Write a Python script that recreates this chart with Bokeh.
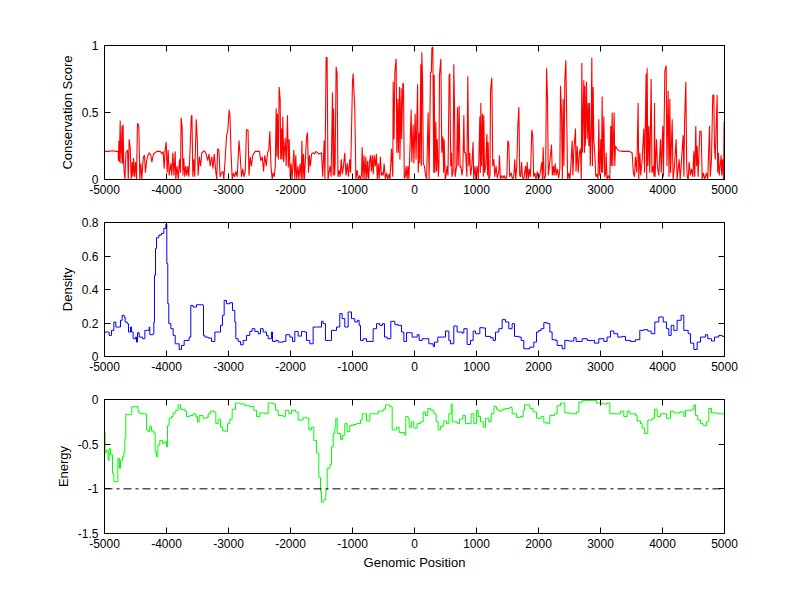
from bokeh.plotting import figure
from bokeh.layouts import column
from bokeh.models import Range1d, FixedTicker, LinearAxis
from bokeh.embed import file_html
from bokeh.resources import INLINE

x_ticks = [-5000,-4000,-3000,-2000,-1000,0,1000,2000,3000,4000,5000]
x_labels = ["-5000","-4000","-3000","-2000","-1000","0","1000","2000","3000","4000","5000"]
cons_ticks = [0,0.5,1]
cons_labels = ["0","0.5","1"]
dens_ticks = [0,0.2,0.4,0.6,0.8]
dens_labels = ["0","0.2","0.4","0.6","0.8"]
ener_ticks = [-1.5,-1,-0.5,0]
ener_labels = ["-1.5","-1","-0.5","0"]

cons_pos = [-5000,-4930,-4880,-4800,-4780,-4775,-4768,-4760,-4747,-4735,-4716,-4708,-4700,-4690,-4683,-4670,-4654,-4628,-4617,-4602,
-4586,-4570,-4554,-4543,-4532,-4516,-4500,-4484,-4468,-4446,-4430,-4414,-4398,-4382,-4371,-4355,-4339,-4323,-4307,-4280,
-4253,-4237,-4210,-4156,-4102,-4070,-4054,-4038,-4022,-4005,-3989,-3973,-3957,-3930,-3914,-3898,-3880,-3860,-3850,-3830,
-3810,-3790,-3775,-3764,-3748,-3735,-3721,-3705,-3690,-3672,-3655,-3640,-3621,-3600,-3590,-3575,-3560,-3545,-3520,-3504,
-3490,-3470,-3450,-3430,-3390,-3360,-3335,-3315,-3295,-3270,-3250,-3230,-3205,-3190,-3175,-3155,-3135,-3115,-3090,-3075,
-3030,-3010,-2990,-2975,-2960,-2940,-2920,-2900,-2880,-2860,-2830,-2815,-2790,-2770,-2750,-2730,-2710,-2685,-2670,-2650,
-2630,-2610,-2570,-2500,-2480,-2455,-2435,-2415,-2390,-2370,-2350,-2333,-2315,-2295,-2280,-2262,-2245,-2231,-2220,-2210,
-2195,-2183,-2167,-2158,-2145,-2135,-2124,-2110,-2086,-2070,-2049,-2035,-2022,-2005,-1990,-1975,-1946,-1930,-1915,-1900,
-1880,-1865,-1845,-1825,-1817,-1800,-1790,-1775,-1742,-1726,-1710,-1695,-1680,-1660,-1635,-1610,-1590,-1540,-1500,-1480,
-1457,-1445,-1425,-1410,-1395,-1380,-1362,-1345,-1323,-1312,-1305,-1290,-1280,-1264,-1248,-1235,-1215,-1200,-1180,-1165,
-1145,-1125,-1105,-1085,-1065,-1045,-1030,-1000,-990,-963,-945,-925,-905,-885,-870,-855,-844,-830,-815,-800,
-785,-770,-755,-740,-725,-710,-695,-680,-665,-650,-630,-615,-600,-585,-570,-550,-535,-520,-505,-490,
-470,-450,-430,-410,-395,-371,-350,-344,-330,-317,-296,-285,-269,-260,-242,-235,-215,-207,-188,-177,
-165,-150,-135,-120,-105,-90,-70,-54,-43,-22,-10,10,25,50,60,75,85,102,110,118,
130,142,160,175,195,220,235,258,272,280,296,310,317,330,344,355,366,385,395,403,
425,440,457,470,478,495,510,525,540,559,570,585,597,605,622,634,645,655,680,694,
705,720,735,750,765,780,796,805,825,845,860,875,890,905,925,945,955,975,990,1010,
1030,1054,1062,1070,1082,1097,1110,1118,1130,1150,1167,1178,1188,1200,1218,1226,1247,1262,1280,1295,
1315,1335,1360,1371,1385,1405,1425,1445,1470,1490,1505,1521,1535,1560,1580,1600,1618,1632,1650,1667,
1683,1697,1712,1727,1742,1762,1790,1805,1817,1835,1850,1870,1892,1908,1922,1940,1960,1980,2000,2020,
2054,2063,2075,2090,2115,2130,2145,2158,2175,2210,2223,2240,2252,2270,2285,2305,2325,2345,2355,2371,
2385,2398,2410,2425,2441,2457,2470,2490,2505,2520,2543,2555,2570,2597,2605,2624,2640,2660,2677,2690,
2699,2710,2731,2742,2747,2755,2774,2785,2801,2812,2822,2835,2848,2860,2870,2882,2892,2908,2925,2945,
2960,2973,2985,3005,3015,3027,3035,3054,3068,3085,3091,3105,3125,3150,3166,3175,3188,3198,3220,3230,
3242,3279,3300,3350,3400,3460,3510,3530,3548,3564,3585,3607,3617,3635,3650,3672,3699,3710,3736,3745,
3752,3765,3780,3795,3817,3830,3850,3865,3871,3880,3903,3918,3940,3968,3980,4005,4015,4038,4059,4072,
4091,4105,4118,4130,4156,4170,4190,4220,4235,4268,4285,4300,4333,4345,4355,4376,4390,4400,4415,4430,
4450,4470,4490,4505,4520,4537,4548,4560,4575,4602,4624,4640,4660,4680,4709,4730,4758,4770,4790,4811,
4828,4838,4850,4881,4890,4903,4915,4946,4955,4968,4985,4994,5000]
cons_val = [.21,.21,.215,.21,.21,.14,.29,.13,.44,.12,.40,.12,.41,.12,.06,0,.2,.22,0,.30,
.24,0,.13,.02,.16,.02,.13,0,.42,.40,0,.12,0,.12,.17,.18,.05,.13,.17,.2,
.18,.13,.19,.21,.21,.19,.21,.08,.22,.28,.05,.22,.03,.12,.03,.2,.03,.21,0,.1,
0,.15,.05,.46,.39,.03,.16,.02,.1,.03,.1,.02,.21,.47,.48,.02,.15,.02,.45,.30,
.03,.17,.1,.2,.215,.19,.14,.19,.1,.17,.08,.19,.06,0,.23,.22,.02,.05,.06,0,
.33,.37,.52,.46,.21,0,.05,.02,.06,.02,.29,.2,.02,.08,.02,.06,.37,.37,.03,.17,
.1,.18,.21,.21,.14,.17,.06,.18,.1,.2,.22,.36,.1,0,.05,.02,.1,.53,.17,.49,
.15,.69,.60,.15,.38,.15,.47,.13,.31,.1,.48,.09,.30,.02,.12,0,.22,0,.18,0,
.1,0,.12,0,.29,0,.19,0,.31,.35,.05,.18,.1,.19,.2,.19,.21,.19,.2,.02,
.29,0,.91,.91,0,.05,.1,.02,.65,.03,.53,.03,.12,.84,.79,.02,.07,.02,.15,.04,
.1,.2,.03,.12,.02,.15,.05,.73,.79,.53,0,.07,0,.03,0,.03,.24,0,.18,0,
.17,0,.14,0,.13,.18,.06,.18,.04,.18,.1,.19,0,.12,0,.17,.03,.05,.03,.12,
0,.05,0,.04,0,.23,.02,.73,.3,.80,.90,.2,.6,.2,.69,.15,.68,.3,.72,.71,
.01,.02,.1,0,.1,0,.28,.52,.13,.41,.12,.49,.15,.71,.05,.35,.12,.86,.1,.95,
.74,.12,.1,.04,0,.5,0,.8,.8,.98,.99,.05,.78,.05,.43,.06,.3,.02,.12,.78,
.90,.2,.32,.05,.3,0,.03,.1,.03,.78,.79,.1,.2,.02,.06,.86,.56,.02,.1,.54,
.1,.55,.09,.1,.03,.08,.48,.2,.2,.02,.77,.1,.2,.03,.1,.28,0,.1,0,.1,
0,.47,.05,.57,.1,.49,.02,.48,.05,.1,.34,.03,.28,0,.03,.66,.76,.1,.15,.02,
.1,.01,.06,.18,0,.03,.01,.03,0,.03,.29,.27,.02,.05,0,.02,.15,0,.1,.40,
.54,.03,.02,.13,.02,0,.1,0,.13,0,.08,.02,.37,.32,.02,.05,0,.06,0,.03,
.13,0,.24,0,.03,.83,.62,.03,.1,.26,.03,.1,.03,.12,.03,.08,.01,.08,.70,.5,
0,.6,.1,.75,.89,.4,0,.05,0,.08,.29,.03,.22,.38,.06,.25,.05,.2,.23,0,
.87,.2,.74,.2,.7,.25,.73,.3,.57,.25,.57,.1,.35,.91,.1,.69,.3,.19,.02,.04,
0,.45,.03,.3,.05,.62,.05,.47,.02,.05,.2,0,.03,0,.4,.1,.5,.1,.5,.1,
.25,.22,.215,.21,.21,.21,.2,.05,.02,.17,.05,.57,0,.2,.03,.15,.38,.05,.79,0,
.83,.1,.4,.05,.75,.05,.1,.02,.57,.02,.3,.1,.03,.3,.05,.4,.02,.81,.85,.1,
.66,.02,.6,.05,.45,0,.08,.3,0,.15,0,.1,.33,.02,.41,.73,.12,.02,0,.13,
.03,.08,.02,.21,.02,.40,.1,.25,.02,.36,.36,0,.05,0,.05,0,.40,.02,.15,.63,
.63,.25,.15,.63,.05,.2,.03,.18,.03,.15,0,.43,.43]

dens_pos = [-5000,-4941,-4925,-4887,-4849,-4817,-4780,-4742,-4715,-4683,-4667,-4634,-4613,-4581,-4565,-4538,-4500,-4484,-4468,-4441,
-4387,-4349,-4312,-4280,-4269,-4215,-4204,-4194,-4177,-4161,-4124,-4081,-4043,-4011,-3995,-3979,-3963,-3930,-3893,-3860,
-3823,-3796,-3758,-3715,-3634,-3608,-3570,-3516,-3436,-3409,-3403,-3382,-3328,-3274,-3220,-3167,-3129,-3097,-3070,-3032,
-2979,-2936,-2898,-2882,-2844,-2807,-2764,-2710,-2656,-2618,-2575,-2522,-2484,-2441,-2387,-2360,-2307,-2290,-2237,-2199,
-2118,-2075,-2011,-1968,-1930,-1877,-1823,-1769,-1742,-1688,-1635,-1581,-1500,-1473,-1436,-1393,-1339,-1258,-1205,-1167,
-1124,-1070,-1016,-963,-920,-893,-871,-828,-774,-721,-667,-613,-559,-516,-484,-441,-382,-317,-264,-210,
-172,-129,-76,-38,5,43,75,124,177,231,301,323,376,446,500,554,581,634,688,769,
796,849,903,946,984,1054,1108,1145,1226,1269,1306,1360,1414,1468,1521,1575,1613,1683,1720,1763,
1817,1860,1925,1968,2005,2043,2086,2140,2183,2220,2274,2301,2382,2425,2489,2570,2607,2704,2785,2865,
2903,2973,3054,3107,3161,3215,3279,3349,3403,3484,3564,3634,3699,3763,3817,3876,3941,4011,4064,4102,
4140,4183,4226,4236,4301,4344,4414,4451,4505,4559,4613,4693,4731,4790,4838,4908,4962,5000]
dens_val = [.146,.146,.126,.156,.206,.176,.176,.216,.246,.236,.206,.196,.146,.176,.146,.106,.116,.086,.142,.116,
.106,.156,.156,.176,.13,.136,.206,.485,.645,.709,.725,.735,.765,.789,.555,.315,.196,.166,.126,.076,
.076,.042,.066,.096,.116,.305,.295,.309,.309,.305,.126,.116,.11,.09,.146,.146,.186,.246,.335,.315,
.321,.275,.206,.106,.09,.07,.096,.126,.15,.166,.15,.136,.166,.146,.126,.106,.146,.09,.096,.086,
.09,.13,.116,.09,.15,.122,.15,.146,.096,.076,.176,.176,.21,.196,.096,.096,.156,.176,.256,.226,
.176,.266,.226,.206,.216,.186,.096,.106,.09,.09,.166,.196,.186,.196,.116,.106,.21,.19,.186,.146,
.09,.142,.142,.116,.116,.13,.096,.106,.106,.076,.06,.086,.116,.116,.152,.096,.076,.182,.146,.14,
.166,.072,.096,.152,.136,.172,.17,.12,.112,.096,.146,.166,.22,.206,.166,.196,.12,.116,.096,.046,
.046,.056,.086,.146,.156,.166,.202,.196,.146,.1,.096,.066,.046,.096,.092,.112,.09,.106,.096,.096,
.08,.106,.09,.116,.152,.136,.116,.12,.096,.09,.1,.156,.16,.152,.136,.206,.236,.206,.166,.126,
.186,.156,.156,.216,.246,.156,.136,.08,.042,.086,.116,.13,.106,.092,.116,.126,.12,.1]

ener_pos = [-5000,-4989,-4973,-4941,-4925,-4903,-4871,-4849,-4796,-4785,-4758,-4742,-4710,-4688,-4672,-4656,-4581,-4559,-4511,-4457,
-4430,-4349,-4323,-4296,-4269,-4242,-4204,-4183,-4161,-4140,-4108,-4065,-4027,-4000,-3984,-3957,-3920,-3893,-3850,-3812,
-3774,-3704,-3677,-3624,-3570,-3527,-3500,-3473,-3409,-3355,-3328,-3290,-3237,-3204,-3167,-3129,-3097,-3049,-3016,-2979,
-2941,-2887,-2817,-2737,-2656,-2591,-2548,-2495,-2414,-2360,-2280,-2242,-2199,-2118,-2081,-2027,-1984,-1919,-1877,-1796,
-1742,-1704,-1661,-1624,-1581,-1543,-1516,-1500,-1462,-1430,-1409,-1366,-1339,-1312,-1285,-1269,-1247,-1194,-1161,-1124,
-1086,-1043,-989,-935,-871,-844,-774,-721,-640,-586,-505,-468,-398,-360,-290,-247,-156,-140,-102,-86,
-48,-11,43,97,140,177,215,258,312,350,382,419,473,516,554,591,608,688,726,780,
823,914,957,1000,1027,1065,1108,1145,1199,1237,1280,1323,1360,1414,1468,1532,1575,1645,1710,1753,
1774,1844,1860,1914,1968,2043,2086,2150,2183,2258,2301,2355,2409,2425,2505,2613,2650,2704,2865,2935,
3027,3107,3150,3258,3322,3376,3430,3473,3564,3591,3645,3672,3710,3763,3833,3871,3914,3968,4064,4129,
4183,4280,4344,4371,4479,4505,4532,4570,4613,4656,4710,4747,4790,4881,4962,5000]
ener_val = [-.36,-.60,-.57,-.68,-.55,-.62,-.83,-.92,-.92,-.66,-.77,-.68,-.64,-.59,-.44,-.17,-.17,-.08,-.08,-.14,
-.16,-.16,-.34,-.36,-.30,-.35,-.38,-.59,-.64,-.51,-.46,-.49,-.47,-.53,-.29,-.21,-.19,-.15,-.12,-.06,
-.11,-.13,-.19,-.18,-.16,-.19,-.25,-.18,-.21,-.20,-.16,-.13,-.14,-.27,-.22,-.31,-.35,-.36,-.27,-.22,
-.11,-.04,-.05,-.07,-.08,-.12,-.19,-.15,-.16,-.04,-.05,-.12,-.18,-.19,-.12,-.16,-.12,-.14,-.23,-.20,
-.21,-.34,-.31,-.46,-.60,-.87,-1.03,-1.15,-1.12,-1.01,-.77,-.73,-.53,-.38,-.31,-.21,-.38,-.45,-.40,-.27,
-.36,-.29,-.28,-.27,-.23,-.16,-.24,-.16,-.16,-.13,-.11,-.06,-.08,-.34,-.31,-.37,-.40,-.19,-.21,-.31,
-.25,-.32,-.27,-.25,-.14,-.18,-.10,-.12,-.16,-.25,-.34,-.30,-.24,-.27,-.16,-.05,-.25,-.27,-.22,-.18,
-.27,-.16,-.27,-.12,-.19,-.25,-.31,-.21,-.25,-.16,-.08,-.11,-.13,-.11,-.10,-.09,-.16,-.20,-.19,-.12,
-.06,-.06,-.10,-.14,-.21,-.19,-.26,-.27,-.18,-.16,-.07,-.04,-.04,-.15,-.16,-.14,-.03,-.01,-.01,-.04,
-.05,-.04,-.16,-.16,-.13,-.19,-.13,-.16,-.18,-.24,-.27,-.32,-.38,-.23,-.21,-.11,-.19,-.16,-.21,-.13,
-.15,-.14,-.19,-.12,-.11,-.06,-.18,-.23,-.27,-.29,-.25,-.10,-.15,-.16,-.16,-.10]

threshold_pos = [-5000, 5000]
threshold_val = [-1, -1]

FONT = "Liberation Sans"


def panel(height, top, bottom, y_range, y_ticks, y_labels, y_name, show_x_name=False):
    p = figure(width=800, height=height, min_border_left=104, min_border_right=76,
               min_border_top=top, min_border_bottom=bottom,
               x_range=Range1d(-5000, 5000), y_range=Range1d(*y_range),
               output_backend="svg", toolbar_location=None,
               background_fill_color="white", outline_line_color="black")
    p.grid.visible = False
    blank_x = {t: "" for t in x_ticks}
    blank_y = {t: "" for t in y_ticks}
    p.add_layout(LinearAxis(ticker=FixedTicker(ticks=x_ticks), major_label_overrides=blank_x), "above")
    p.add_layout(LinearAxis(ticker=FixedTicker(ticks=y_ticks), major_label_overrides=blank_y), "right")
    for ax in p.axis:
        ax.major_tick_in = 6
        ax.major_tick_out = 0
        ax.minor_tick_line_color = None
        ax.axis_line_color = "black"
        ax.major_tick_line_color = "black"
        ax.major_label_text_font = FONT
        ax.major_label_text_font_size = "12px"
        ax.major_label_text_color = "black"
    xa, ya = p.below[0], p.left[0]
    xa.major_label_standoff = 5
    ya.major_label_standoff = 6
    xa.ticker = FixedTicker(ticks=x_ticks)
    xa.major_label_overrides = dict(zip(x_ticks, x_labels))
    ya.ticker = FixedTicker(ticks=y_ticks)
    ya.major_label_overrides = dict(zip(y_ticks, y_labels))
    ya.axis_label = y_name
    ya.axis_label_text_font = FONT
    ya.axis_label_text_font_size = "13px"
    ya.axis_label_text_font_style = "normal"
    ya.axis_label_text_color = "black"
    ya.axis_label_standoff = 4
    if show_x_name:
        xa.axis_label = "Genomic Position"
        xa.axis_label_text_font = FONT
        xa.axis_label_text_font_size = "13px"
        xa.axis_label_text_font_style = "normal"
        xa.axis_label_text_color = "black"
        xa.axis_label_standoff = 4
    return p


p1 = panel(200, 45, 21, (0, 1), cons_ticks, cons_labels, "Conservation Score")
p1.line(cons_pos, cons_val, line_color="#ff0000", line_width=1.1)

p2 = panel(177, 22, 21, (0, 0.8), dens_ticks, dens_labels, "Density")
p2.step(dens_pos, dens_val, mode="after", line_color="#0000ff", line_width=1)

p3 = panel(214, 22, 58, (-1.5, 0), ener_ticks, ener_labels, "Energy", show_x_name=True)
p3.step(ener_pos, ener_val, mode="after", line_color="#00ff00", line_width=1)
p3.line(threshold_pos, threshold_val, line_color="black", line_width=1, line_dash=[8, 4, 3, 4])

layout = column(p1, p2, p3, spacing=0)
open("out.html", "w").write(file_html(layout, INLINE))
